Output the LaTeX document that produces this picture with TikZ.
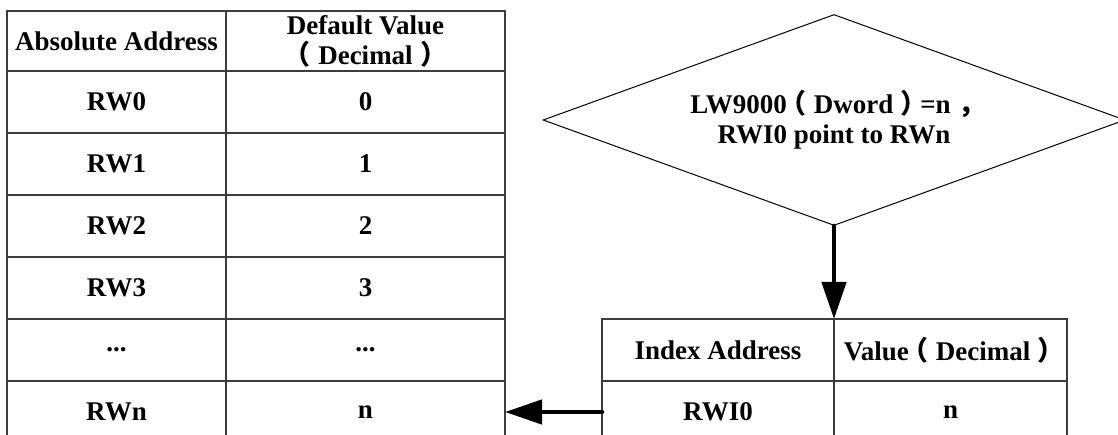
\documentclass[tikz,border=0pt]{standalone}
\usepackage{fontspec}
\setmainfont{Liberation Serif}
\newfontfamily\cjk[RawFeature=+halt]{Noto Sans CJK SC}
\usepackage{tikz}
\usetikzlibrary{positioning,arrows.meta,shapes.geometric}
\definecolor{ink}{HTML}{000000}
\definecolor{rulec}{HTML}{3C3C3C}
% full-width marks, glyph centred in its em box
\newcommand{\fl}{\kern0.22em{\cjk （}\kern0.28em}
\newcommand{\fr}{\kern0.28em{\cjk ）}\kern0.22em}
\newcommand{\fc}{\kern0.3em{\cjk ，}\kern0.2em}
\newcommand{\elide}{...}
\tikzset{
  cell/.style={rectangle,draw=rulec,line width=1.3pt,inner sep=0pt,outer sep=0pt,
    align=center,anchor=north west,minimum height=62pt},
  cola/.style={cell,minimum width=219pt},
  colb/.style={cell,minimum width=279pt},
  colc/.style={cell,minimum width=232pt},
  cold/.style={cell,minimum width=233pt},
  cond/.style={diamond,draw=ink,line width=1pt,aspect=2.74,inner sep=0pt,
    minimum width=582pt,minimum height=211pt,align=center},
  ar/.style={-{Triangle[length=37pt,width=24pt]},line width=4.5pt,draw=ink,line cap=round},
}
\begin{document}
\begin{tikzpicture}[x=1pt,y=-1pt,font=\fontsize{27}{30}\selectfont\bfseries]
  \useasboundingbox (0,0) rectangle (1118,435);
  % absolute table
  \node[cola,minimum height=60pt] (ha) at (7,11) {Absolute Address};
  \node[colb,minimum height=60pt] (hb) at (226,11) {Default Value\\\fl Decimal\fr};
  \foreach \a/\b [count=\i] in {RW0/0,RW1/1,RW2/2,RW3/3,\elide/\elide,RWn/n} {
    \node[cola] (a\i) at (7,{71+62*(\i-1)}) {\a};
    \node[colb] (b\i) at (226,{71+62*(\i-1)}) {\b};
  }
  % index table
  \node[colc] (hc) at (602,319) {Index Address};
  \node[cold] (hd) at (834,319) {Value\fl Decimal\fr};
  \node[colc] (c1) at (602,381) {RWI0};
  \node[cold] (d1) at (834,381) {n};
  % pointer
  \node[cond] (lw) at (834,120) {LW9000\fl Dword\fr=n\fc\\RWI0 point to RWn};
  \draw[ar] (lw.south) -- (hc.north east);
  \draw[ar] (c1.west) -- (b6.east);
\end{tikzpicture}
\end{document}
